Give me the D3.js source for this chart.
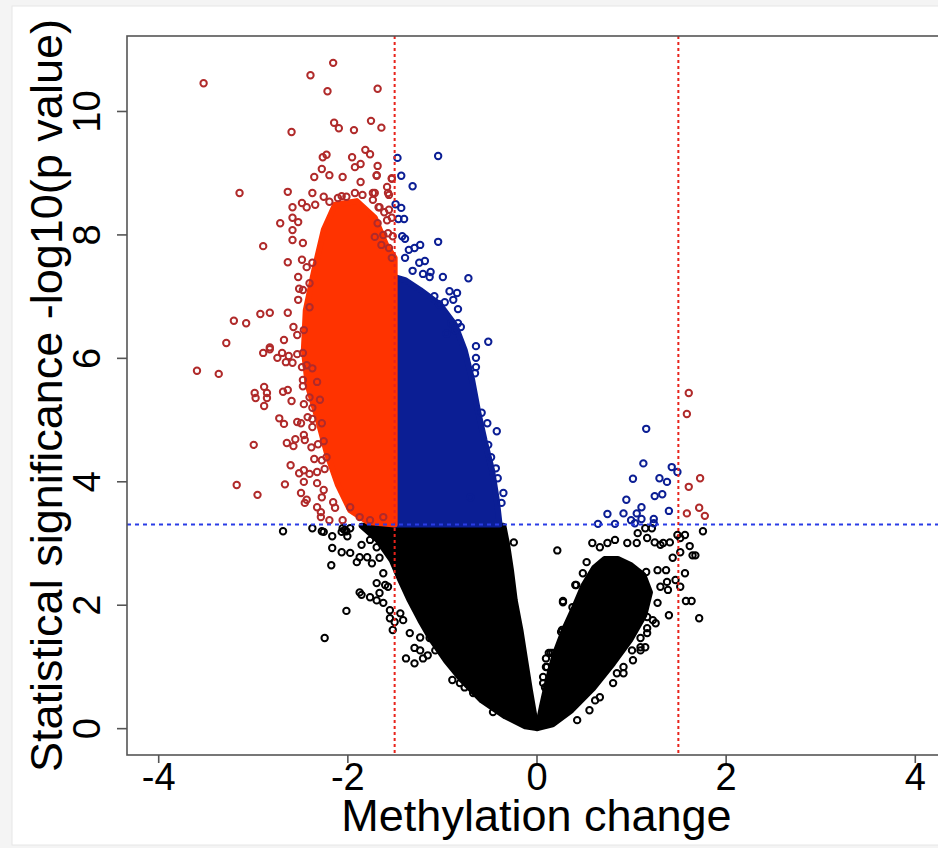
<!DOCTYPE html>
<html>
<head>
<meta charset="utf-8">
<script src="https://cdn.jsdelivr.net/npm/d3@7"></script>
<style>
  body { margin: 0; background: #f4f4f4; }
  svg { display: block; font-family: "Liberation Sans", Arial, sans-serif; }
</style>
</head>
<body>
<div id="chart"></div>
<script>
// axis setup
var xTicks = [-4, -2, 0, 2, 4];
var yTicks = [0, 2, 4, 6, 8, 10];
var xLabel = "Methylation change";
var yLabel = "Statistical significance -log10(p value)";
var changeCut = 1.5;
var pCut = 3.3;

// dense cores of the cloud (outline, in data units)
var redCore = [[-1.5,3.3],[-1.78,3.34],[-1.97,3.53],[-2.10,3.94],[-2.21,4.42],[-2.31,4.99],[-2.42,5.56],
  [-2.46,6.13],[-2.44,6.77],[-2.35,7.42],[-2.25,8.07],[-2.13,8.48],[-1.90,8.54],[-1.71,8.27],[-1.59,7.83],
  [-1.5,7.62]];
var blueCore = [[-1.5,3.3],[-0.39,3.3],[-0.42,3.70],[-0.47,4.18],[-0.55,4.67],[-0.62,5.15],[-0.68,5.64],
  [-0.76,6.13],[-0.86,6.53],[-1.02,6.86],[-1.23,7.10],[-1.39,7.26],[-1.5,7.31]];
var blackLeftCore = [[-1.85,3.28],[-1.68,3.05],[-1.53,2.72],[-1.44,2.40],[-1.34,2.07],[-1.23,1.75],[-1.11,1.43],
  [-0.96,1.10],[-0.79,0.78],[-0.58,0.45],[-0.33,0.19],[-0.12,0.03],[0,0],[-0.03,0.26],[-0.07,0.62],
  [-0.12,1.10],[-0.17,1.59],[-0.23,2.07],[-0.27,2.56],[-0.31,2.97],[-0.35,3.28]];
var blackRightCore = [[0.01,0],[0.06,0.37],[0.12,0.78],[0.19,1.18],[0.29,1.59],[0.40,1.96],[0.50,2.32],
  [0.61,2.60],[0.72,2.74],[0.86,2.74],[1.00,2.64],[1.13,2.48],[1.20,2.20],[1.14,1.83],[0.99,1.43],
  [0.81,1.05],[0.60,0.65],[0.37,0.29],[0.17,0.06]];

// individual probes outside the cores
var redPoints = [[-3.52,10.45],[-2.15,10.78],[-2.39,10.58],[-2.21,10.32],[-1.68,10.36],[-2.59,9.66],[-2.14,9.81],
  [-2.09,9.72],[-1.93,9.69],[-1.75,9.84],[-1.64,9.73],[-2.26,9.25],[-2.22,9.29],[-1.95,9.25],[-1.81,9.37],
  [-1.76,9.30],[-1.92,9.09],[-1.86,9.14],[-1.68,9.11],[-2.27,9.06],[-2.35,8.93],[-2.19,8.96],[-2.05,8.93],
  [-1.69,8.95],[-1.53,8.91],[-3.14,8.67],[-2.63,8.69],[-2.37,8.67],[-2.06,8.62],[-1.86,8.85],[-1.58,8.77],
  [-1.56,8.64],[-2.58,8.44],[-2.48,8.51],[-2.43,8.44],[-2.34,8.48],[-2.25,8.61],[-2.19,8.53],[-2.10,8.59],
  [-2.01,8.61],[-1.92,8.67],[-1.84,8.64],[-1.73,8.67],[-1.66,8.44],[-2.71,8.18],[-2.58,8.27],[-2.52,8.20],
  [-2.58,8.07],[-2.58,7.91],[-2.47,7.86],[-2.89,7.81],[-2.63,7.55],[-2.48,7.59],[-2.43,7.47],[-2.37,7.54],
  [-2.52,7.31],[-2.47,7.10],[-2.40,7.21],[-2.51,7.12],[-2.52,6.94],[-2.40,6.82],[-3.20,6.60],[-3.07,6.56],
  [-2.92,6.71],[-2.82,6.73],[-3.28,6.24],[-2.67,6.29],[-2.57,6.50],[-2.53,6.37],[-2.82,6.17],[-2.63,6.73],
  [-2.46,6.45],[-3.59,5.79],[-3.36,5.74],[-2.89,6.08],[-2.82,6.14],[-2.74,6.00],[-2.69,6.08],[-2.62,6.03],
  [-2.53,6.06],[-2.47,6.08],[-2.65,5.93],[-2.58,5.92],[-2.48,5.85],[-2.43,5.88],[-2.37,5.83],[-2.47,5.64],
  [-2.47,5.54],[-2.32,5.61],[-2.88,5.53],[-2.98,5.43],[-2.85,5.43],[-2.97,5.35],[-2.85,5.35],[-2.88,5.22],
  [-2.68,5.45],[-2.63,5.48],[-2.59,5.30],[-2.46,5.25],[-2.40,5.36],[-2.37,5.19],[-2.29,5.32],[-2.72,5.02],
  [-2.67,4.93],[-2.53,4.96],[-2.42,5.04],[-2.37,5.01],[-2.49,4.94],[-2.37,4.88],[-2.27,4.94],[-2.99,4.59],
  [-2.64,4.62],[-2.55,4.68],[-2.57,4.57],[-2.46,4.75],[-2.45,4.67],[-2.38,4.55],[-2.31,4.60],[-2.25,4.65],
  [-2.60,4.26],[-2.51,4.13],[-2.46,4.18],[-2.40,4.12],[-2.35,4.36],[-2.27,4.34],[-2.22,4.39],[-2.32,4.15],
  [-2.24,4.20],[-3.17,3.94],[-2.95,3.78],[-2.66,3.95],[-2.46,3.99],[-2.32,3.97],[-2.25,3.86],[-2.27,3.74],
  [-2.49,3.81],[-2.45,3.65],[-2.43,3.70],[-2.32,3.58],[-2.28,3.50],[-2.15,3.66],[-2.13,3.57],[-2.19,3.37],
  [-2.28,3.42],[-2.05,3.37],[-1.97,3.58],[-1.87,3.42],[-1.76,3.37],[-1.62,3.42],
  [-1.69,8.96],[-1.53,8.90],[-1.57,8.67],[-1.71,8.67],[-1.73,8.56],[-1.67,8.44],[-1.61,8.36],[-1.56,8.40],
  [-1.53,8.27],[-1.68,8.18],[-1.58,8.23],[-1.71,7.96],[-1.62,7.99],[-1.57,8.02],[-1.52,7.97],[-1.64,7.83],
  [-1.56,7.78],[-1.53,7.62],
  [1.61,5.43],[1.59,5.09],[1.73,4.05],[1.61,3.91],[1.72,3.57],[1.59,3.48],[1.78,3.44]];

var bluePoints = [[-1.47,9.24],[-1.04,9.27],[-1.43,8.95],[-1.31,8.78],[-1.49,8.49],[-1.43,8.43],[-1.46,8.25],
  [-1.40,8.25],[-1.42,7.97],[-1.39,7.93],[-1.04,7.88],[-1.35,7.75],[-1.29,7.78],[-1.23,7.83],[-1.39,7.62],
  [-1.24,7.54],[-1.18,7.57],[-1.31,7.41],[-1.20,7.36],[-1.12,7.39],[-1.13,7.31],[-0.99,7.31],[-0.72,7.29],
  [-0.92,7.08],[-0.84,7.05],[-0.88,6.94],[-1.08,7.00],[-1.03,6.87],[-0.97,6.90],[-0.83,6.79],[-0.51,6.26],
  [-0.64,6.19],[-0.64,6.00],[-0.64,5.85],[-0.90,6.56],[-0.83,6.56],[-0.80,6.50],[-0.95,6.39],[-0.86,6.45],
  [-0.65,5.75],[-0.58,5.11],[-0.52,4.94],[-0.42,4.81],[-0.51,4.59],[-0.48,4.39],[-0.43,4.21],[-0.41,4.05],
  [-0.35,3.81],[-0.37,3.65],[-0.70,3.74],
  [1.16,4.85],[1.13,4.29],[1.02,4.04],[1.30,4.05],[1.38,3.99],[1.43,4.23],[1.49,4.15],[1.33,3.79],
  [1.25,3.76],[0.95,3.70],[0.75,3.47],[0.92,3.48],[1.06,3.48],[1.11,3.58],[1.00,3.37],[1.04,3.32],
  [1.11,3.39],[1.24,3.39],[1.24,3.32],[1.40,3.52],[0.65,3.31],[0.83,3.31]];

var blackPoints = [[-2.68,3.19],[-2.37,3.24],[-2.27,3.19],[-2.25,3.18],[-2.16,3.11],[-2.06,3.18],[-2.05,3.24],
  [-2.03,3.21],[-2.01,3.19],[-2.00,3.11],[-1.97,3.24],[-2.16,2.92],[-2.17,2.64],[-2.06,2.85],[-1.97,2.84],
  [-1.85,2.97],[-1.76,3.05],[-1.69,2.93],[-1.79,2.77],[-1.87,2.77],[-1.90,2.69],[-1.74,2.67],[-1.66,2.76],
  [-1.69,2.35],[-1.62,2.51],[-1.60,2.32],[-1.66,2.19],[-1.57,2.29],[-1.69,2.07],[-1.76,2.12],[-1.87,2.20],
  [-1.85,2.16],[-2.01,1.90],[-2.24,1.46],[-1.62,2.03],[-1.55,1.91],[-1.55,1.78],[-1.50,1.72],[-1.52,1.59],
  [-1.44,1.86],[-1.41,1.75],[-1.38,1.13],[-1.29,1.05],[-1.20,1.13],[-1.29,1.30],[-1.23,1.26],[-1.15,1.18],
  [-1.07,1.26],[-1.34,1.54],[-1.23,1.47],[-1.13,1.46],[-0.89,0.78],[-0.81,0.73],[-0.76,0.66],[-0.67,0.57],
  [-0.46,0.26],
  [-0.24,3.01],[0.22,2.88],[0.59,3.00],[0.67,2.93],[0.75,3.00],[0.83,3.05],[0.96,3.00],[1.06,3.00],
  [1.17,3.08],[1.25,3.01],[1.31,2.97],[1.34,3.00],[1.41,3.01],[1.07,3.16],[1.15,3.24],[1.22,3.24],
  [1.49,3.13],[1.57,3.13],[1.52,3.08],[1.62,2.95],[1.65,2.80],[1.68,2.80],[1.76,3.19],[1.44,2.76],
  [1.52,2.85],[1.16,2.53],[1.28,2.56],[1.37,2.56],[1.57,2.51],[1.47,2.40],[1.52,2.29],[1.38,2.37],
  [1.39,2.24],[1.58,2.06],[1.64,2.06],[1.40,1.83],[1.72,1.78],[1.17,1.80],[1.26,1.70],[1.17,1.62],
  [1.10,1.46],[1.15,1.31],[1.10,1.26],[0.28,2.06],[0.42,2.32],[0.26,1.56],[0.15,1.22],[0.10,0.99],
  [0.07,0.73],[0.62,0.45],[0.85,0.89],[0.92,0.99],[1.01,1.26],[0.13,1.22],[0.10,1.13],
  [0.53,2.69],[0.49,2.51],[0.41,2.32],[0.28,2.04],[0.38,1.96],[0.27,1.59],[0.17,1.22],[0.11,0.99],
  [0.07,0.83],[0.09,0.66],[1.31,2.29],[1.28,2.03],[1.23,1.75],[1.17,1.54],[1.10,1.31],[1.02,1.10],
  [0.92,0.89],[0.81,0.73],[0.67,0.50],[0.56,0.29],[0.43,0.13]];

var svgWidth = 938;
var svgHeight = 848;

var svg = d3.select("#chart")
    .append("svg")
    .attr("width", svgWidth)
    .attr("height", svgHeight);

// page card behind the figure
svg.append("rect")
    .attr("width", svgWidth)
    .attr("height", svgHeight)
    .attr("fill", "#f4f4f4");
svg.append("rect")
    .attr("x", 12).attr("y", 6)
    .attr("width", 940).attr("height", 839)
    .attr("fill", "#fff")
    .attr("stroke", "#e6e6e6");

var plot = {left: 127, top: 36, right: 946, bottom: 755};

var x = d3.scaleLinear()
    .domain([-4.33, 4.33])
    .range([plot.left, plot.right]);

var y = d3.scaleLinear()
    .domain([-0.435, 11.215])
    .range([plot.bottom, plot.top]);

var colors = {
    red: "#b02a2a",
    redCore: "#ff3300",
    blue: "#0b1e94",
    black: "#000"
};

var area = d3.line()
    .x(d => x(d[0]))
    .y(d => y(d[1]))
    .curve(d3.curveLinearClosed);

function drawCore(data, color) {
    svg.append("path")
        .datum(data)
        .attr("d", area)
        .attr("fill", color)
        .attr("stroke", color)
        .attr("stroke-width", 6)
        .attr("stroke-linejoin", "round");
}

function drawPoints(data, color) {
    svg.append("g")
        .selectAll("circle")
        .data(data)
        .enter()
        .append("circle")
        .attr("cx", d => x(d[0]))
        .attr("cy", d => y(d[1]))
        .attr("r", 3.2)
        .attr("fill", "none")
        .attr("stroke", color)
        .attr("stroke-width", 2);
}

drawCore(blackLeftCore, colors.black);
drawCore(blackRightCore, colors.black);
drawPoints(blackPoints, colors.black);
drawCore(blueCore, colors.blue);
drawPoints(bluePoints, colors.blue);
drawCore(redCore, colors.redCore);
drawPoints(redPoints, colors.red);

// cut-off lines
[-changeCut, changeCut].forEach(function(c) {
    svg.append("line")
        .attr("x1", x(c)).attr("x2", x(c))
        .attr("y1", plot.top).attr("y2", plot.bottom)
        .attr("stroke", "#e8231b")
        .attr("stroke-width", 2)
        .attr("stroke-dasharray", "3,3");
});

svg.append("line")
    .attr("x1", plot.left).attr("x2", plot.right)
    .attr("y1", y(pCut)).attr("y2", y(pCut))
    .attr("stroke", "#2a3de6")
    .attr("stroke-width", 2)
    .attr("stroke-dasharray", "4,4");

// box
svg.append("rect")
    .attr("x", plot.left).attr("y", plot.top)
    .attr("width", plot.right - plot.left)
    .attr("height", plot.bottom - plot.top)
    .attr("fill", "none")
    .attr("stroke", "#555")
    .attr("stroke-width", 1.6);

var xAxis = svg.append("g")
    .attr("transform", `translate(0, ${plot.bottom})`)
    .call(d3.axisBottom(x).tickValues(xTicks).tickSize(8).tickPadding(0).tickFormat(d => String(d)));

var yAxis = svg.append("g")
    .attr("transform", `translate(${plot.left}, 0)`)
    .call(d3.axisLeft(y).tickValues(yTicks).tickSize(10).tickFormat(d => String(d)));

[xAxis, yAxis].forEach(function(a) {
    a.select(".domain").remove();
    a.selectAll("line").attr("stroke", "#555").attr("stroke-width", 1.6);
    a.selectAll("text")
        .attr("fill", "#000")
        .style("font-size", "38px")
        .style("font-family", "Liberation Sans, Arial, sans-serif");
});

// R style y labels, turned parallel to the axis
yAxis.selectAll("text")
    .attr("x", null)
    .attr("dy", null)
    .attr("text-anchor", "middle")
    .attr("transform", "translate(-27, 0) rotate(-90)");

svg.append("text")
    .attr("x", (plot.left + plot.right) / 2)
    .attr("y", 831)
    .attr("text-anchor", "middle")
    .style("font-size", "45px")
    .text(xLabel);

svg.append("text")
    .attr("transform", `translate(62, ${(plot.top + plot.bottom) / 2}) rotate(-90)`)
    .attr("text-anchor", "middle")
    .style("font-size", "45px")
    .text(yLabel);
</script>
</body>
</html>
